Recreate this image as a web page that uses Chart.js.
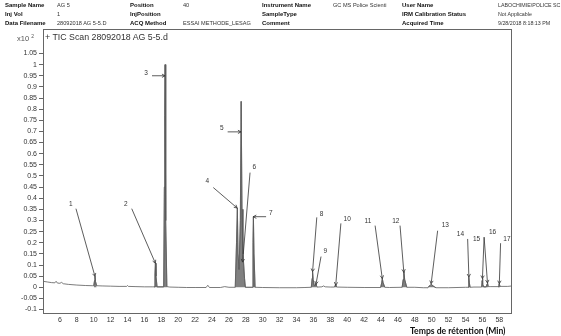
<!DOCTYPE html>
<html>
<head>
<meta charset="utf-8">
<script src="https://cdn.jsdelivr.net/npm/chart.js@4.4.1/dist/chart.umd.min.js"></script>
<style>
    body { margin: 0; background: #fff; }
    #wrap { position: relative; width: 561px; height: 336px; overflow: hidden; font-family: 'Liberation Sans', Arial, sans-serif; color: #222; }
    #tic { position: absolute; left: 0; top: 0; }
    .hd { position: absolute; font-size: 5.6px; line-height: 8px; white-space: nowrap; color: #333; }
    .hd.b { font-weight: bold; font-size: 6px; color: #111; }
    .hd.n { font-size: 5.3px; }
    #scale { position: absolute; left: 17px; top: 32px; font-size: 7.5px; line-height: 9px; color: #555; }
    #scale sup { font-size: 5px; vertical-align: 3px; }
    #plotTitle { position: absolute; left: 45px; top: 32px; font-size: 8.8px; line-height: 10px; color: #333; }
    #xTitle { position: absolute; left: 410px; top: 326px; font-family: Lato, sans-serif; font-weight: bold; font-size: 8.6px; line-height: 10px; color: #111; }
</style>
</head>
<body>
<div id="wrap">
    <canvas id="tic" width="561" height="336"></canvas>

    <div class="hd b" style="left:5px;top:1px">Sample Name</div>
    <div class="hd" style="left:57px;top:1px">AG 5</div>
    <div class="hd b" style="left:130px;top:1px">Position</div>
    <div class="hd" style="left:183px;top:1px">40</div>
    <div class="hd b" style="left:262px;top:1px">Instrument Name</div>
    <div class="hd" style="left:333px;top:1px">GC MS Police Scienti</div>
    <div class="hd b" style="left:402px;top:1px">User Name</div>
    <div class="hd n" style="left:498px;top:1px">LABOCHIMIE\POLICE SC</div>

    <div class="hd b" style="left:5px;top:10px">Inj Vol</div>
    <div class="hd" style="left:57px;top:10px">1</div>
    <div class="hd b" style="left:130px;top:10px">InjPosition</div>
    <div class="hd b" style="left:262px;top:10px">SampleType</div>
    <div class="hd b" style="left:402px;top:10px">IRM Calibration Status</div>
    <div class="hd n" style="left:498px;top:10px">Not Applicable</div>

    <div class="hd b" style="left:5px;top:19px">Data Filename</div>
    <div class="hd" style="left:57px;top:19px">28092018 AG 5-5.D</div>
    <div class="hd b" style="left:130px;top:19px">ACQ Method</div>
    <div class="hd" style="left:183px;top:19px">ESSAI METHODE_LESAG</div>
    <div class="hd b" style="left:262px;top:19px">Comment</div>
    <div class="hd b" style="left:402px;top:19px">Acquired Time</div>
    <div class="hd n" style="left:498px;top:19px">9/28/2018 8:18:13 PM</div>

    <div id="scale">x10 <sup>2</sup></div>
    <div id="plotTitle">+ TIC Scan 28092018 AG 5-5.d</div>
    <div id="xTitle">Temps de rétention (Min)</div>
</div>

<script>
// TIC trace: retention time (min) and abundance (x10^2)
const traceTimes = [
    4.0, 4.5, 5.0, 5.4, 5.55, 5.7, 6.0, 6.2, 6.4, 7.0, 8.0, 9.0, 9.9,
    10.0, 10.1, 10.15, 10.22, 10.35,
    11.0, 12.0, 13.0, 13.9, 14.0, 14.1, 15.0, 16.0, 17.0,
    17.15, 17.25, 17.3, 17.37, 17.5,
    18.28, 18.36, 18.41, 18.45, 18.49, 18.55, 18.66,
    19.0, 20.0, 21.0, 22.0, 23.3, 23.5, 23.7, 25.0, 25.5, 26.0,
    26.75, 26.9, 27.0, 27.08, 27.2, 27.35, 27.45, 27.55, 27.65, 27.72, 27.85, 27.95,
    28.75, 28.85, 28.9, 28.97, 29.1,
    30.0, 32.0, 34.0, 35.0,
    35.75, 35.85, 35.9, 35.97, 36.1, 36.25, 36.3, 36.38, 36.5,
    37.0, 37.2, 37.4, 38.0,
    38.5, 38.6, 38.65, 38.75,
    40.0, 42.0,
    43.95, 44.08, 44.15, 44.25, 44.45,
    45.0,
    46.5, 46.62, 46.7, 46.8, 47.05,
    48.0, 49.0,
    49.5, 49.8, 49.95, 50.15, 50.5,
    52.0, 54.0,
    54.3, 54.37, 54.4, 54.45, 54.55,
    55.0,
    55.9, 55.97, 56.0, 56.05, 56.15,
    56.45, 56.55, 56.6, 56.7,
    57.0,
    57.85, 57.95, 58.0, 58.08,
    59.0, 59.5
];
const traceValues = [
    0.027, 0.024, 0.021, 0.020, 0.027, 0.019, 0.018, 0.022, 0.016, 0.013, 0.010, 0.008, 0.007,
    0.007, 0.030, 0.049, 0.025, 0.007,
    0.006, 0.005, 0.004, 0.004, 0.008, 0.004, 0.003, 0.002, 0.002,
    0.002, 0.060, 0.108, 0.050, 0.002,
    0.002, 0.450, 0.770, 1.000, 0.750, 0.300, 0.003,
    0.001, 0.000, -0.001, -0.001, -0.001, 0.009, -0.001, -0.001, 0.003, 0.000,
    0.000, 0.200, 0.356, 0.150, 0.080, 0.300, 0.835, 0.350, 0.150, 0.120, 0.040, 0.000,
    0.000, 0.200, 0.317, 0.150, 0.000,
    -0.001, -0.002, -0.002, -0.001,
    0.000, 0.040, 0.070, 0.035, 0.008, 0.010, 0.015, 0.005, 0.001,
    0.002, 0.006, 0.002, 0.001,
    0.001, 0.010, 0.012, 0.001,
    0.000, -0.001,
    -0.001, 0.020, 0.040, 0.020, 0.000,
    -0.001,
    0.000, 0.035, 0.070, 0.035, 0.000,
    0.000, -0.002,
    -0.002, 0.008, 0.014, 0.006, -0.002,
    -0.002, 0.000,
    0.000, 0.030, 0.046, 0.020, 0.000,
    0.001,
    0.001, 0.030, 0.040, 0.015, 0.002,
    0.002, 0.015, 0.020, 0.003,
    0.003,
    0.003, 0.013, 0.016, 0.004,
    0.004, 0.006
];

// integrated (shaded) windows
const areaStarts = [10.0, 17.15, 18.28, 26.75, 28.75, 35.75, 38.5, 43.95, 46.5, 49.5, 54.3, 55.9, 56.45, 57.85];
const areaEnds   = [10.35, 17.5, 18.66, 27.95, 29.1, 36.5, 38.75, 44.45, 47.05, 50.5, 54.55, 56.15, 56.7, 58.08];

// numbered peak labels: label anchor, arrow start, arrow tip (data units)
const peakNames   = ['1', '2', '3', '4', '5', '6', '7', '8', '9', '10', '11', '12', '13', '14', '15', '16', '17'];
const labelTimes  = [7.3, 13.8, 16.2, 23.45, 25.15, 29.0, 30.95, 36.95, 37.4, 40.0, 42.45, 45.75, 51.6, 53.4, 55.3, 57.2, 58.9];
const labelValues = [0.375, 0.374, 0.96, 0.478, 0.713, 0.54, 0.333, 0.329, 0.162, 0.307, 0.296, 0.296, 0.277, 0.239, 0.217, 0.247, 0.217];
const fromTimes   = [7.9, 14.5, 16.9, 24.15, 25.85, 28.5, 30.4, 36.4, 36.9, 39.25, 43.3, 46.25, 50.7, 54.25, 56.2, 56.2, 58.15];
const fromValues  = [0.353, 0.353, 0.95, 0.448, 0.698, 0.515, 0.317, 0.314, 0.138, 0.287, 0.277, 0.277, 0.254, 0.217, 0.225, 0.225, 0.198];
const tipTimes    = [10.15, 17.3, 18.44, 26.98, 27.43, 27.62, 28.88, 35.9, 36.3, 38.64, 44.15, 46.7, 49.93, 54.4, 56.0, 56.6, 58.0];
const tipValues   = [0.049, 0.108, 0.95, 0.356, 0.698, 0.113, 0.317, 0.07, 0.013, 0.009, 0.039, 0.067, 0.016, 0.046, 0.039, 0.019, 0.016];

// axis ticks
const xTicks = [6, 8, 10, 12, 14, 16, 18, 20, 22, 24, 26, 28, 30, 32, 34, 36, 38, 40, 42, 44, 46, 48, 50, 52, 54, 56, 58];
const yTicks = [-0.1, -0.05, 0, 0.05, 0.1, 0.15, 0.2, 0.25, 0.3, 0.35, 0.4, 0.45, 0.5, 0.55, 0.6, 0.65, 0.7, 0.75, 0.8, 0.85, 0.9, 0.95, 1, 1.05];

const tracePoints = traceTimes.map((t, i) => ({ x: t, y: traceValues[i] }));
const areaPoints = traceTimes.map((t, i) => {
    const inside = areaStarts.some((s, k) => t >= s && t <= areaEnds[k]);
    return { x: t, y: inside ? traceValues[i] : null };
});

// frame around the plot area
const frame = {
    id: 'frame',
    afterDraw(chart) {
        const { ctx, chartArea: a } = chart;
        ctx.save();
        ctx.strokeStyle = '#666';
        ctx.lineWidth = 1;
        ctx.strokeRect(a.left + 0.5, a.top + 0.5, a.right - a.left - 1, a.bottom - a.top - 1);
        ctx.restore();
    }
};

// numbered arrows pointing at the peaks
const peakArrows = {
    id: 'peakArrows',
    afterDatasetsDraw(chart) {
        const { ctx, scales: { x, y } } = chart;
        ctx.save();
        ctx.strokeStyle = '#333';
        ctx.fillStyle = '#333';
        ctx.lineWidth = 0.8;
        ctx.font = '6.5px "Liberation Sans", Arial, sans-serif';
        ctx.textAlign = 'center';
        ctx.textBaseline = 'middle';
        peakNames.forEach((name, i) => {
            const x0 = x.getPixelForValue(fromTimes[i]), y0 = y.getPixelForValue(fromValues[i]);
            const x1 = x.getPixelForValue(tipTimes[i]), y1 = y.getPixelForValue(tipValues[i]);
            ctx.beginPath();
            ctx.moveTo(x0, y0);
            ctx.lineTo(x1, y1);
            // small open arrow head
            const ang = Math.atan2(y1 - y0, x1 - x0);
            const len = 3.5;
            ctx.moveTo(x1 - len * Math.cos(ang - 0.5), y1 - len * Math.sin(ang - 0.5));
            ctx.lineTo(x1, y1);
            ctx.lineTo(x1 - len * Math.cos(ang + 0.5), y1 - len * Math.sin(ang + 0.5));
            ctx.stroke();
            ctx.fillText(name, x.getPixelForValue(labelTimes[i]), y.getPixelForValue(labelValues[i]));
        });
        ctx.restore();
    }
};

const tickFont = { family: '"Liberation Sans", Arial, sans-serif', size: 7 };

new Chart(document.getElementById('tic'), {
    type: 'line',
    data: {
        datasets: [
            {
                label: 'TIC',
                data: tracePoints,
                borderColor: '#5a5a5a',
                borderWidth: 0.8,
                pointRadius: 0,
                tension: 0,
                fill: false,
                order: 0
            },
            {
                label: 'Integrated',
                data: areaPoints,
                borderColor: '#555',
                borderWidth: 0.6,
                backgroundColor: '#808080',
                pointRadius: 0,
                tension: 0,
                spanGaps: false,
                fill: 'origin',
                order: 1
            }
        ]
    },
    options: {
        responsive: false,
        animation: false,
        devicePixelRatio: 1,
        layout: { padding: { left: 0, top: 29, right: 49, bottom: 0 } },
        plugins: {
            legend: { display: false },
            tooltip: { enabled: false }
        },
        scales: {
            x: {
                type: 'linear',
                min: 4,
                max: 59.5,
                border: { display: false },
                grid: { drawOnChartArea: false, drawTicks: false },
                afterBuildTicks: (s) => { s.ticks = xTicks.map(v => ({ value: v })); },
                afterFit: (s) => { s.height = 22; },
                ticks: { color: '#333', font: tickFont, padding: 2, maxRotation: 0, autoSkip: false }
            },
            y: {
                min: -0.12,
                max: 1.16,
                border: { display: false },
                grid: { drawOnChartArea: false, drawTicks: true, tickLength: 4, color: '#666' },
                afterBuildTicks: (s) => { s.ticks = yTicks.map(v => ({ value: v })); },
                afterFit: (s) => { s.width = 43; },
                ticks: {
                    color: '#333',
                    font: tickFont,
                    padding: 2,
                    autoSkip: false,
                    callback: (v) => String(+Number(v).toFixed(2))
                }
            }
        }
    },
    plugins: [frame, peakArrows]
});
</script>
</body>
</html>
